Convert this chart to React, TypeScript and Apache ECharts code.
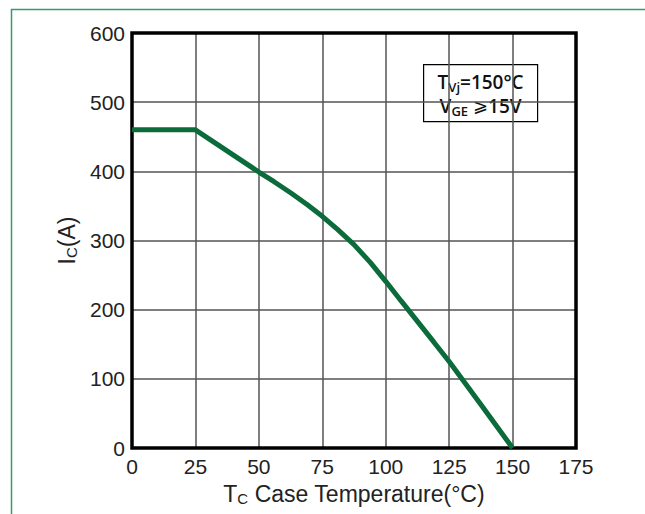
import React, { useEffect, useRef } from "react";
import * as echarts from "echarts";

const xTicks = [0, 25, 50, 75, 100, 125, 150, 175];
const yTicks = [0, 100, 200, 300, 400, 500, 600];
const tempC = [0, 25, 50, 56, 62.5, 69, 75, 81, 87.5, 94, 100, 106, 112.5, 119, 125, 137.5, 150];
const currentA = [460, 460, 399, 385, 369, 352, 335, 316, 294, 268, 241, 213, 183, 153, 125, 63, 0];

const nameRich = {
  n: { fontSize: 23, color: "#222", fontFamily: "Liberation Sans" },
  s: { fontSize: 15, color: "#222", fontFamily: "Liberation Sans", padding: [10, 0, 0, 0] },
};

const boxRich = {
  b: { fontSize: 19, lineHeight: 24, fontWeight: 600, fill: "#111", fontFamily: "Open Sans", verticalAlign: "middle" },
  g: { fontSize: 18, lineHeight: 24, fontWeight: 400, fill: "#111", fontFamily: "DejaVu Sans", verticalAlign: "middle" },
  s: { fontSize: 13, lineHeight: 15, fontWeight: 600, fill: "#111", fontFamily: "Open Sans", verticalAlign: "bottom" },
};

export default function App() {
  const ref = useRef<HTMLDivElement>(null);
  useEffect(() => {
    if (!ref.current) return;
    const chart = echarts.init(ref.current, null, { renderer: "svg" });
    const data = tempC.map((t, i) => [t, currentA[i]]);
    chart.setOption({
      animation: false,
      backgroundColor: "#ffffff",
      grid: {
        left: 132,
        top: 33,
        width: 444,
        height: 415,
        show: true,
        borderColor: "#000",
        borderWidth: 3.5,
        backgroundColor: "transparent",
        z: 3,
      },
      xAxis: {
        type: "value",
        min: xTicks[0],
        max: xTicks[xTicks.length - 1],
        interval: 25,
        axisLine: { show: false },
        axisTick: { show: false },
        axisLabel: { fontSize: 21, color: "#222", fontFamily: "Liberation Sans", margin: 8 },
        splitLine: { show: true, showMinLine: false, showMaxLine: false, lineStyle: { color: "#555", width: 1.5 } },
        name: "{n|T}{s|C}{n| Case Temperature(°C)}",
        nameLocation: "middle",
        nameGap: 33,
        nameTextStyle: { rich: nameRich },
      },
      yAxis: {
        type: "value",
        min: yTicks[0],
        max: yTicks[yTicks.length - 1],
        interval: 100,
        axisLine: { show: false },
        axisTick: { show: false },
        axisLabel: { fontSize: 21, color: "#222", fontFamily: "Liberation Sans", margin: 7 },
        splitLine: { show: true, showMinLine: false, showMaxLine: false, lineStyle: { color: "#555", width: 1.5 } },
        name: "{n|I}{s|C}{n|(A)}",
        nameLocation: "middle",
        nameGap: 45,
        nameTextStyle: { rich: nameRich },
      },
      graphic: [
        {
          type: "rect",
          left: 9,
          top: 7,
          shape: { width: 700, height: 600 },
          style: { fill: "none", stroke: "#2e9e6e", lineWidth: 1.5 },
          silent: true,
          z: 0,
        },
        {
          type: "group",
          left: 423,
          top: 64,
          z: 100,
          children: [
            {
              type: "rect",
              shape: { x: 0, y: 0, width: 114, height: 57 },
              style: { fill: "#fff", stroke: "#000", lineWidth: 1.2 },
            },
            {
              type: "text",
              x: 57,
              y: 29,
              style: {
                text: "{b|T}{s|Vj}{b|=150°C}\n{b|V}{s|GE}{b| }{g|⩾}{b|15V}",
                align: "center",
                verticalAlign: "middle",
                rich: boxRich,
              },
            },
          ],
        },
      ],
      series: [
        {
          type: "line",
          data,
          showSymbol: false,
          symbol: "none",
          lineStyle: { color: "#0b6b3a", width: 5 },
          z: 5,
        },
      ],
    });
    return () => chart.dispose();
  }, []);
  return (
    <div
      ref={ref}
      style={{ position: "fixed", left: 0, top: 0, width: 645, height: 514 }}
    />
  );
}
